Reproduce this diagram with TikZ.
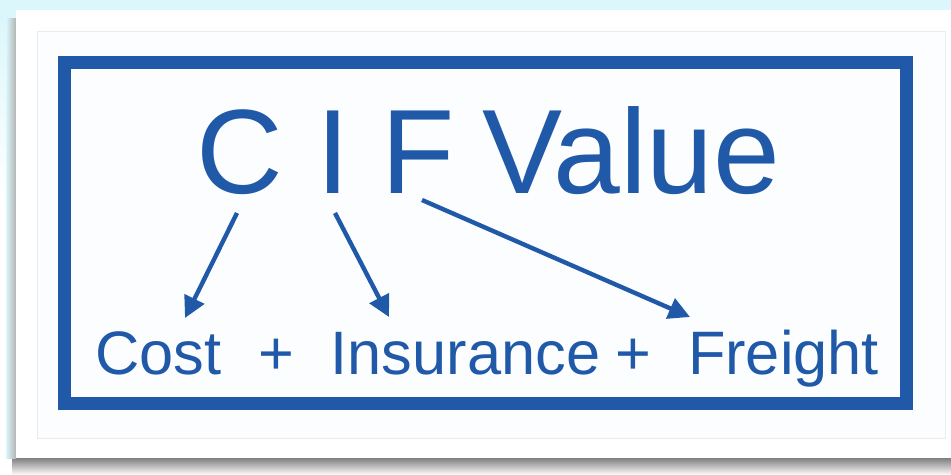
\documentclass[tikz,border=0pt]{standalone}
\usepackage{fontspec}
\setmainfont{Liberation Sans}
\usetikzlibrary{arrows.meta,positioning}
\definecolor{cifblue}{HTML}{2059A8}
\definecolor{skyback}{HTML}{DCF7FB}
\definecolor{panel}{HTML}{FBFDFE}

\begin{document}
\begin{tikzpicture}[x=0.75pt,y=-0.75pt]
        \tikzset{Big/.style={text=cifblue, font=\fontsize{90}{90}\selectfont, inner sep=0pt, anchor=base}}
        \tikzset{Word/.style={text=cifblue, font=\fontsize{46}{46}\selectfont, inner sep=0pt, anchor=base}}
        \tikzset{Pointer/.style={cifblue, line width=3.3pt, -{Triangle[length=16pt,width=16pt]}}}

        % card, shadow and frame
        \fill[skyback] (0,0) rectangle (951,475);
        \fill[white] (0,200) rectangle (951,475);
        \shade[top color=skyback, bottom color=white] (0,20) rectangle (951,200);
        \shade[top color=black!50, bottom color=white] (12,458) rectangle (951,475);
        \shade[left color=skyback, right color=black!30] (6,18) rectangle (16,458);
        \fill[white] (16,10) rectangle (951,458);
        \filldraw[fill=panel, draw=black!8, line width=0.6pt] (37,31) rectangle (945,438);
        \draw[cifblue, line width=9.75pt] (64.5,62) rectangle (906.5,403.5);

        % title letters
        \node[Big](C) at (240,193) {C};
        \node[Big](I) at (333.5,193) {I};
        \node[Big](F) at (418,193) {F};
        \node[Big, anchor=base west](Value) at (482,193) {Value};

        % words below
        \node[Word](Cost) at (158.5,374) {Cost};
        \node[Word](Plus1) at (276,374) {+};
        \node[Word](Insurance) at (465.5,374) {Insurance};
        \node[Word](Plus2) at (633,374) {+};
        \node[Word](Freight) at (783.5,374) {Freight};

        \coordinate (C-tail) at (237,213);
        \coordinate (I-tail) at (335,213);
        \coordinate (F-tail) at (422,200);
        \coordinate (Cost-tip) at (185,318);
        \coordinate (Insurance-tip) at (389,317);
        \coordinate (Freight-tip) at (690,317);

        \draw[Pointer] (C-tail) -- (Cost-tip);
        \draw[Pointer] (I-tail) -- (Insurance-tip);
        \draw[Pointer] (F-tail) -- (Freight-tip);
\end{tikzpicture}
\end{document}
